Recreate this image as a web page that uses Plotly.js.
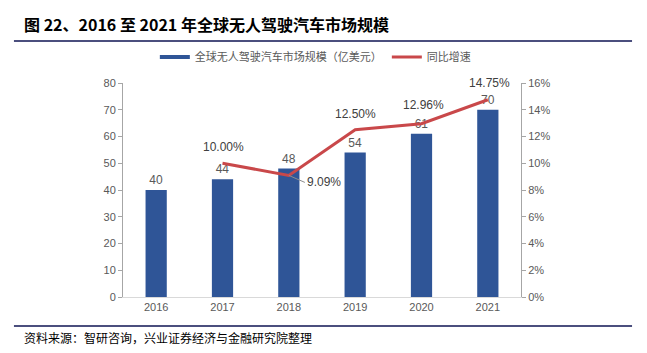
<!DOCTYPE html>
<html><head><meta charset="utf-8">
<script src="https://cdn.plot.ly/plotly-3.0.1.min.js"></script>
<style>html,body{margin:0;padding:0;background:#fff}#chart{width:647px;height:353px}</style>
</head><body><div id="chart"></div>
<script>
const years = ['2016','2017','2018','2019','2020','2021'];
const marketSize = [40, 44, 48, 54, 61, 70];
const growthPct = [null, 10.00, 9.09, 12.50, 12.96, 14.75];
const growthLabels = ['', '10.00%', '9.09%', '12.50%', '12.96%', '14.75%'];
const barName = '全球无人驾驶汽车市场规模（亿美元）';
const lineName = '同比增速';
const titleText = '图 22、2016 至 2021 年全球无人驾驶汽车市场规模';
const sourceText = '资料来源：智研咨询，兴业证券经济与金融研究院整理';

const BLUE = '#2F5597', RED = '#C9484A', GREY = '#595959', NAVY = '#4B4F7E';
const CJK = '"Noto Sans CJK SC", "Noto Sans", sans-serif';
const LAT = '"Liberation Sans", Arial, sans-serif';

const traces = [
  {type:'bar', x: years, y: marketSize, name: barName, showlegend:false,
   marker:{color:BLUE}, width:0.32,
   text: marketSize.map(String), textposition:'outside', cliponaxis:false,
   textfont:{family:LAT, size:12, color:GREY}, hoverinfo:'none'},
  {type:'scatter', mode:'lines', x: years, y: growthPct, yaxis:'y2', name: lineName,
   showlegend:false, line:{color:RED, width:3}, connectgaps:false, hoverinfo:'none'},
  {type:'scatter', mode:'lines', x:[years[0], years[0]], y:[-100, -100], name: barName,
   line:{color:BLUE, width:4}, hoverinfo:'none'},
  {type:'scatter', mode:'lines', x:[years[0], years[0]], y:[-100, -100], yaxis:'y2', name: lineName,
   line:{color:RED, width:3}, hoverinfo:'none'}
];

// label offsets (px) for growth labels
const labOff = [null, [1,16], null, [0,16], [2,19], [2,17]];
const annotations = [];
growthPct.forEach((v,i) => {
  if (v === null) return;
  if (labOff[i]) {
    annotations.push({x: i, y: v, xref:'x', yref:'y2', text: growthLabels[i],
      showarrow:false, xshift: labOff[i][0], yshift: labOff[i][1],
      font:{family:LAT, size:12, color:'#404040'}});
  } else {
    annotations.push({x: i, y: v, xref:'x', yref:'y2', text: growthLabels[i],
      showarrow:true, arrowhead:0, arrowwidth:1, arrowcolor:'#8c8c8c',
      ax:16, ay:7, xanchor:'left', standoff:0,
      font:{family:LAT, size:12, color:'#404040'}});
  }
});
annotations.push({xref:'paper', yref:'paper', x:-0.2538, y:1.276, xanchor:'left', yanchor:'middle',
  text:'<b>'+titleText+'</b>', showarrow:false, font:{family:CJK, size:16, color:'#000'}});
annotations.push({xref:'paper', yref:'paper', x:-0.2538, y:-0.187, xanchor:'left', yanchor:'middle',
  text: sourceText, showarrow:false, font:{family:CJK, size:12, color:'#000'}});

const layout = {
  width:647, height:353,
  margin:{l:123, r:126, t:83, b:56},
  paper_bgcolor:'#fff', plot_bgcolor:'#fff',
  showlegend:true,
  legend:{orientation:'h', x:0.08, y:1.121, xanchor:'left', yanchor:'middle',
    font:{family:CJK, size:11, color:GREY}, itemwidth:30, tracegroupgap:0},
  bargap:0.68,
  xaxis:{type:'category', range:[-0.5, 5.5], autorange:false, showgrid:false, zeroline:false, showline:true,
    linecolor:'#d9d9d9', linewidth:1,
    ticks:'', tickfont:{family:LAT, size:11, color:GREY}, fixedrange:true},
  yaxis:{range:[0,80], autorange:false, dtick:10, showgrid:false, zeroline:false, showline:true, linecolor:'#a6a6a6', linewidth:1,
    ticks:'outside', ticklen:4, tickcolor:'#a6a6a6', tickfont:{family:LAT, size:11, color:GREY}},
  yaxis2:{overlaying:'y', side:'right', range:[0,16], autorange:false, dtick:2, ticksuffix:'%', showgrid:false, zeroline:false,
    showline:true, linecolor:'#a6a6a6', linewidth:1, ticks:'outside', ticklen:4, tickcolor:'#a6a6a6',
    tickfont:{family:LAT, size:11, color:GREY}},
  shapes:[
    {type:'line', xref:'paper', yref:'paper', x0:-0.274, x1:1.279, y0:1.196, y1:1.196, line:{color:NAVY, width:2}},
    {type:'line', xref:'paper', yref:'paper', x0:-0.274, x1:1.279, y0:-0.1355, y1:-0.1355, line:{color:NAVY, width:2}}
  ],
  annotations: annotations
};
Plotly.newPlot('chart', traces, layout, {displayModeBar:false, staticPlot:true});
</script></body></html>
